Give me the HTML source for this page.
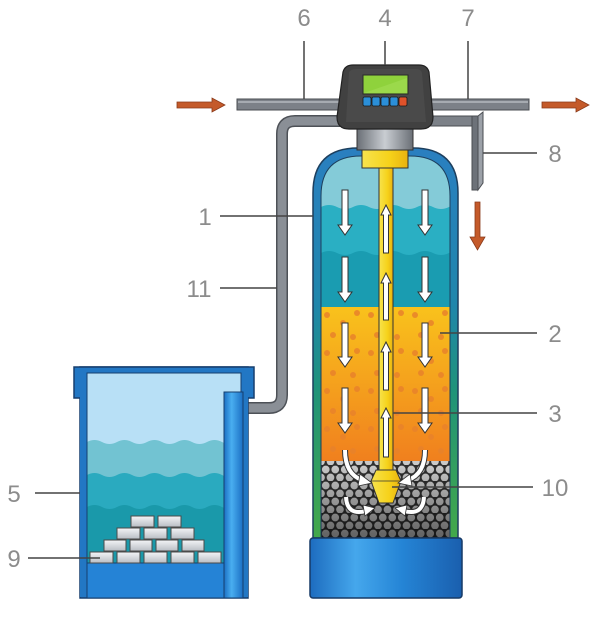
<!DOCTYPE html>
<html><head><meta charset="utf-8"><style>
html,body{margin:0;padding:0;background:#fff;}
svg{display:block;}
text{font-family:"Liberation Sans",sans-serif;font-size:24px;fill:#8c8c8c;text-anchor:middle;}
</style></head><body>
<svg width="604" height="618" viewBox="0 0 604 618" xmlns="http://www.w3.org/2000/svg">
<defs>
<linearGradient id="wall" x1="0" y1="148" x2="0" y2="538" gradientUnits="userSpaceOnUse">
<stop offset="0" stop-color="#2a7fc0"/><stop offset="0.4" stop-color="#1f86ac"/><stop offset="0.62" stop-color="#1f937a"/><stop offset="1" stop-color="#43a84a"/>
</linearGradient>
<linearGradient id="resin" x1="0" y1="307" x2="0" y2="465" gradientUnits="userSpaceOnUse">
<stop offset="0" stop-color="#f9c21c"/><stop offset="1" stop-color="#f07e1e"/>
</linearGradient>
<linearGradient id="yel" x1="0" x2="1" y1="0" y2="0">
<stop offset="0" stop-color="#f7e34e"/><stop offset="0.6" stop-color="#f6d21a"/><stop offset="1" stop-color="#e9b310"/>
</linearGradient>
<linearGradient id="collar" x1="0" x2="1" y1="0" y2="0">
<stop offset="0" stop-color="#6a6f76"/><stop offset="0.5" stop-color="#c9cdd2"/><stop offset="1" stop-color="#6a6f76"/>
</linearGradient>
<linearGradient id="base" x1="0" x2="1" y1="0" y2="0">
<stop offset="0" stop-color="#1d6cbf"/><stop offset="0.3" stop-color="#45a7ec"/><stop offset="0.6" stop-color="#2585d6"/><stop offset="1" stop-color="#1a5fae"/>
</linearGradient>
<linearGradient id="salt" x1="0" x2="0" y1="0" y2="1">
<stop offset="0" stop-color="#f4f5f7"/><stop offset="1" stop-color="#b9bec4"/>
</linearGradient>
<linearGradient id="btube" x1="0" x2="1" y1="0" y2="0">
<stop offset="0" stop-color="#1b6fc4"/><stop offset="0.4" stop-color="#49aef0"/><stop offset="1" stop-color="#1b6fc4"/>
</linearGradient>
<linearGradient id="shade" x1="0" y1="465" x2="0" y2="535" gradientUnits="userSpaceOnUse">
<stop offset="0" stop-color="#000" stop-opacity="0"/><stop offset="1" stop-color="#000" stop-opacity="0.5"/>
</linearGradient>
<pattern id="grav" x="321" y="465" width="9.5" height="16" patternUnits="userSpaceOnUse">
<rect width="9.5" height="16" fill="#2e2e2e"/>
<circle cx="4.75" cy="4.5" r="4.2" fill="#c9c9c9" stroke="#333" stroke-width="0.7"/>
<circle cx="0" cy="12.5" r="4.2" fill="#c9c9c9" stroke="#333" stroke-width="0.7"/>
<circle cx="9.5" cy="12.5" r="4.2" fill="#c9c9c9" stroke="#333" stroke-width="0.7"/>
</pattern>
<pattern id="dots" x="321" y="307" width="44" height="38" patternUnits="userSpaceOnUse">
<circle cx="6" cy="8" r="3" fill="#e8822a"/>
<circle cx="22" cy="16" r="3" fill="#e8822a"/>
<circle cx="36" cy="6" r="3" fill="#e8822a"/>
<circle cx="12" cy="28" r="3" fill="#e8822a"/>
<circle cx="32" cy="30" r="3" fill="#e8822a"/>
</pattern>
<clipPath id="inner"><path d="M321,538 L321,196 Q321,156 361,156 L410,156 Q450,156 450,196 L450,538 Z"/></clipPath>
<clipPath id="binner"><rect x="87" y="373" width="154" height="225"/></clipPath>
</defs>

<!-- top pipe -->
<rect x="237" y="99" width="292" height="11" fill="#7c8188" stroke="#4a4d52" stroke-width="1"/>
<rect x="238" y="101" width="290" height="2" fill="#a6abb1"/>

<!-- brine line 11 -->
<path d="M345,121 L295,121 Q282,121 282,134 L282,395 Q282,408 269,408 L246,408" fill="none" stroke="#4d5157" stroke-width="12"/>
<path d="M345,121 L295,121 Q282,121 282,134 L282,395 Q282,408 269,408 L246,408" fill="none" stroke="#8a8f96" stroke-width="9"/>

<!-- drain pipe 8 -->
<rect x="425" y="116" width="53" height="10" fill="#7c8188" stroke="#4a4d52" stroke-width="1"/>
<rect x="472" y="116" width="6" height="74" fill="#6d7279" stroke="#4a4d52" stroke-width="1"/>
<polygon points="478,116 483,112 483,183 478,190" fill="#9ca1a8" stroke="#4a4d52" stroke-width="1"/>

<!-- arrows orange -->
<g fill="#c45a2a" stroke="#8a3a1a" stroke-width="0.8">
<polygon points="177,102 212,102 212,98 225,105 212,112 212,108 177,108"/>
<polygon points="542,102 576,102 576,98 589,105 576,112 576,108 542,108"/>
<polygon points="475,202 480,202 480,237 485,237 477.5,250 470,237 475,237"/>
</g>

<!-- main tank -->
<path d="M313,538 L313,193 Q313,148 358,148 L413,148 Q458,148 458,193 L458,538 Z" fill="url(#wall)" stroke="#1d3f5e" stroke-width="1.5"/>
<g clip-path="url(#inner)">
<rect x="315" y="150" width="140" height="390" fill="#84cbd8"/>
<path d="M321,207 q8,-4 16,0 t16,0 t16,0 t16,0 t16,0 t16,0 t16,0 t16,0 t16,0 L450,540 L321,540 Z" fill="#2aafc3"/>
<path d="M321,253 q8,-4 16,0 t16,0 t16,0 t16,0 t16,0 t16,0 t16,0 t16,0 t16,0 L450,540 L321,540 Z" fill="#1a9cb1"/>
<rect x="315" y="307" width="140" height="160" fill="url(#resin)"/>
<rect x="315" y="307" width="140" height="160" fill="url(#dots)" opacity="0.85"/>
<rect x="315" y="461" width="140" height="78" fill="url(#grav)"/>
<rect x="315" y="461" width="140" height="78" fill="url(#shade)"/>
</g>
<path d="M321,538 L321,196 Q321,156 361,156 L410,156 Q450,156 450,196 L450,538" fill="none" stroke="#1d3f5e" stroke-width="1"/>

<!-- base -->
<rect x="310" y="538" width="152" height="60" rx="3" fill="url(#base)" stroke="#173a66" stroke-width="1.5"/>

<!-- tube -->
<rect x="379" y="166" width="14" height="308" fill="url(#yel)" stroke="#333" stroke-width="1"/>
<!-- nozzle -->
<polygon points="376,470 396,470 401,481 393,503 379,503 371,481" fill="url(#yel)" stroke="#333" stroke-width="1"/>
<line x1="371" y1="481" x2="401" y2="481" stroke="#333" stroke-width="0.8"/>

<!-- collar and cap -->
<rect x="357" y="128" width="56" height="22" fill="url(#collar)" stroke="#333" stroke-width="1"/>
<rect x="362" y="150" width="46" height="18" fill="url(#yel)" stroke="#333" stroke-width="1"/>

<!-- controller -->
<path d="M343,72 Q345,65 353,65 L419,65 Q427,65 429,72 L433,117 Q433,129 421,129 L349,129 Q337,129 337,117 Z" fill="#414141" stroke="#222" stroke-width="1.2"/>
<path d="M349,72 Q351,69 356,69 L416,69 Q421,69 422,73 L426,122 L346,122 Z" fill="#4a4a4a"/>
<rect x="363" y="75" width="45" height="19" fill="#8fd23c" stroke="#2a2a2a" stroke-width="1"/>
<polygon points="364,93 407,78 407,93" fill="#a4dd55" opacity="0.6"/>
<g stroke="#1b1b1b" stroke-width="0.8">
<rect x="363" y="97" width="8" height="9" rx="1.5" fill="#2b8fd8"/>
<rect x="372" y="97" width="8" height="9" rx="1.5" fill="#2b8fd8"/>
<rect x="381" y="97" width="8" height="9" rx="1.5" fill="#2b8fd8"/>
<rect x="390" y="97" width="8" height="9" rx="1.5" fill="#2b8fd8"/>
<rect x="399" y="97" width="8" height="9" rx="1.5" fill="#e0522a"/>
</g>

<!-- down arrows -->
<g fill="#fff" stroke="#333" stroke-width="1">
<polygon points="342,190 348,190 348,225 352,225 345,235 338,225 342,225"/>
<polygon points="422,190 428,190 428,225 432,225 425,235 418,225 422,225"/>
<polygon points="342,257 348,257 348,292 352,292 345,302 338,292 342,292"/>
<polygon points="422,257 428,257 428,292 432,292 425,302 418,292 422,292"/>
<polygon points="342,323 348,323 348,357 352,357 345,367 338,357 342,357"/>
<polygon points="422,323 428,323 428,357 432,357 425,367 418,357 422,357"/>
<polygon points="342,388 348,388 348,423 352,423 345,433 338,423 342,423"/>
<polygon points="422,388 428,388 428,423 432,423 425,433 418,423 422,423"/>
<!-- up arrows in tube -->
<polygon points="386,205 391,215 388.5,215 388.5,253 383.5,253 383.5,215 381,215"/>
<polygon points="386,273 391,283 388.5,283 388.5,320 383.5,320 383.5,283 381,283"/>
<polygon points="386,342 391,352 388.5,352 388.5,390 383.5,390 383.5,352 381,352"/>
<polygon points="386,408 391,418 388.5,418 388.5,457 383.5,457 383.5,418 381,418"/>
</g>

<!-- curved arrows -->
<g fill="none" stroke-linecap="butt">
<path d="M345,450 Q345,474 362,480" stroke="#333" stroke-width="6"/>
<path d="M345,450 Q345,474 362,480" stroke="#fff" stroke-width="4"/>
<path d="M425,450 Q425,474 408,480" stroke="#333" stroke-width="6"/>
<path d="M425,450 Q425,474 408,480" stroke="#fff" stroke-width="4"/>
<path d="M346,497 Q347,516 366,511" stroke="#333" stroke-width="6"/>
<path d="M346,497 Q347,516 366,511" stroke="#fff" stroke-width="4"/>
<path d="M424,497 Q423,516 404,511" stroke="#333" stroke-width="6"/>
<path d="M424,497 Q423,516 404,511" stroke="#fff" stroke-width="4"/>
</g>
<g fill="#fff" stroke="#333" stroke-width="0.8">
<polygon points="360,474 372,483 358,486"/>
<polygon points="410,474 398,483 412,486"/>
<polygon points="363,505 375,508 365,516"/>
<polygon points="407,505 395,508 405,516"/>
</g>

<!-- brine tank -->
<rect x="80" y="367" width="168" height="231" fill="#2277c4" stroke="#163f6e" stroke-width="1.5"/>
<rect x="74" y="367" width="180" height="31" fill="#2277c4" stroke="#163f6e" stroke-width="1.5"/>
<rect x="80" y="397" width="7" height="200" fill="#2277c4"/>
<rect x="241" y="397" width="7" height="200" fill="#2277c4"/>
<g clip-path="url(#binner)">
<rect x="87" y="373" width="154" height="225" fill="#b8e0f6"/>
<path d="M87,442 q7.5,-4 15,0 t15,0 t15,0 t15,0 t15,0 t15,0 t15,0 t15,0 t15,0 t15,0 t15,0 L250,600 L87,600 Z" fill="#72c3d2"/>
<path d="M87,475 q7.5,-4 15,0 t15,0 t15,0 t15,0 t15,0 t15,0 t15,0 t15,0 t15,0 t15,0 t15,0 L250,600 L87,600 Z" fill="#2aaabf"/>
<path d="M87,507 q7.5,-4 15,0 t15,0 t15,0 t15,0 t15,0 t15,0 t15,0 t15,0 t15,0 t15,0 t15,0 L250,600 L87,600 Z" fill="#1a99aa"/>
<rect x="87" y="563" width="154" height="35" fill="#2583d6"/>
<line x1="87" y1="563" x2="241" y2="563" stroke="#163f6e" stroke-width="1"/>
</g>
<rect x="87" y="373" width="154" height="225" fill="none" stroke="#163f6e" stroke-width="1"/>
<rect x="224" y="392" width="19" height="206" fill="url(#btube)" stroke="#163f6e" stroke-width="1"/>

<!-- salt blocks -->
<g fill="url(#salt)" stroke="#4a4a4a" stroke-width="1">
<rect x="90" y="552" width="23" height="11"/>
<rect x="117" y="552" width="23" height="11"/>
<rect x="144" y="552" width="23" height="11"/>
<rect x="171" y="552" width="23" height="11"/>
<rect x="198" y="552" width="23" height="11"/>
<rect x="104" y="540" width="22" height="11"/>
<rect x="130" y="540" width="22" height="11"/>
<rect x="156" y="540" width="22" height="11"/>
<rect x="182" y="540" width="22" height="11"/>
<rect x="117" y="528" width="23" height="11"/>
<rect x="144" y="528" width="23" height="11"/>
<rect x="171" y="528" width="23" height="11"/>
<rect x="131" y="516" width="23" height="11"/>
<rect x="158" y="516" width="23" height="11"/>
</g>

<!-- leader lines -->
<g stroke="#444" stroke-width="1.5">
<line x1="304" y1="41" x2="304" y2="99"/>
<line x1="385" y1="41" x2="385" y2="65"/>
<line x1="468" y1="41" x2="468" y2="99"/>
<line x1="483" y1="153" x2="537" y2="153"/>
<line x1="220" y1="216" x2="313" y2="216"/>
<line x1="220" y1="288" x2="277" y2="288"/>
<line x1="440" y1="333" x2="537" y2="333"/>
<line x1="393" y1="413" x2="537" y2="413"/>
<line x1="392" y1="487" x2="533" y2="487"/>
<line x1="35" y1="493" x2="80" y2="493"/>
<line x1="28" y1="558" x2="100" y2="558"/>
</g>

<!-- labels -->
<text x="304" y="26">6</text>
<text x="385" y="26">4</text>
<text x="468" y="26">7</text>
<text x="555" y="162">8</text>
<text x="205" y="225">1</text>
<text x="199" y="297">11</text>
<text x="555" y="342">2</text>
<text x="555" y="422">3</text>
<text x="555" y="496">10</text>
<text x="14" y="502">5</text>
<text x="14" y="567">9</text>
</svg>
</body></html>
